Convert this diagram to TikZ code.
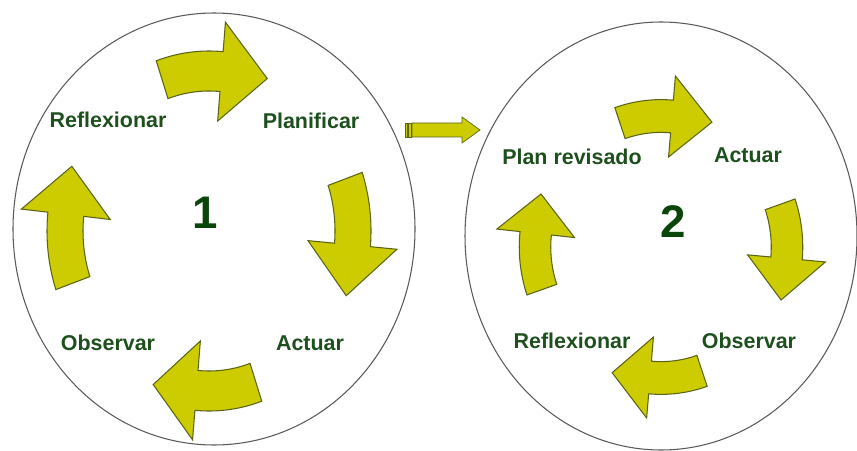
\documentclass[tikz,border=0pt]{standalone}
\usepackage{fontspec}
\setmainfont{Liberation Sans}
\usepackage{tikz}

\definecolor{arrowfill}{RGB}{204,204,0}
\definecolor{arrowline}{RGB}{90,100,20}
\definecolor{labelgreen}{RGB}{30,80,30}
\definecolor{numgreen}{RGB}{10,70,10}

\begin{document}
\begin{tikzpicture}[x=0.02cm, y=0.02cm,
		ring/.style={draw=black!65, line width=0.6pt},
		cyc arrow/.style={fill=arrowfill, draw=arrowline, line width=0.6pt, line join=miter},
		step label/.style={text=labelgreen, font=\bfseries\fontsize{12.2}{14}\selectfont},
		cycle num/.style={text=numgreen, font=\bfseries\fontsize{26}{30}\selectfont}]
		
		\useasboundingbox (0,0) rectangle (857,450);
		
		% the two cycles
		\draw[ring] (214,221) ellipse [x radius=201, y radius=216];
		\draw[ring] (661,214) ellipse [x radius=196, y radius=214];
		
		% curved arrows, cycle 1
		\begin{scope}[shift={(209,219)}, xscale=144, yscale=160]
		\foreach \a/\b/\c in {109/85/67, 19/-5/-23, -71/-95/-112, 199/174/157}
		\draw[cyc arrow] (\a:1.125) arc [start angle=\a, end angle=\b, radius=1.125]
		-- (\b:1.31) -- (\c:1.035) -- (\b:0.69) -- (\b:0.875)
		arc [start angle=\b, end angle=\a, radius=0.875] -- cycle;
		\end{scope}
		
		% curved arrows, cycle 2
		\begin{scope}[shift={(661,203)}, xscale=126, yscale=131]
		\foreach \a/\b/\c in {109/85/67, 19/-5/-23, -71/-95/-112, 199/174/157}
		\draw[cyc arrow] (\a:1.125) arc [start angle=\a, end angle=\b, radius=1.125]
		-- (\b:1.31) -- (\c:1.035) -- (\b:0.69) -- (\b:0.875)
		arc [start angle=\b, end angle=\a, radius=0.875] -- cycle;
		\end{scope}
		
		% arrow from cycle 1 to cycle 2
		\draw[cyc arrow, line width=0.4pt] (412,313) -- (462,313) -- (462,307) -- (480,320)
		-- (462,333) -- (462,327) -- (412,327) -- cycle;
		\draw[cyc arrow, line width=0.4pt] (405,313) rectangle (407,327);
		\draw[cyc arrow, line width=0.4pt] (408.5,313) rectangle (411,327);
		
		% labels
		\node[cycle num] (N1) at (205,237) {1};
		\node[step label] (R1) at (108,330) {Reflexionar};
		\node[step label] (P1) at (311,329) {Planificar};
		\node[step label] (A1) at (310,107) {Actuar};
		\node[step label] (O1) at (108,107) {Observar};
		
		\node[cycle num] (N2) at (673,228) {2};
		\node[step label] (P2) at (572,293) {Plan revisado};
		\node[step label] (A2) at (748,295) {Actuar};
		\node[step label] (O2) at (749,109) {Observar};
		\node[step label] (R2) at (572,109) {Reflexionar};
\end{tikzpicture}
\end{document}
